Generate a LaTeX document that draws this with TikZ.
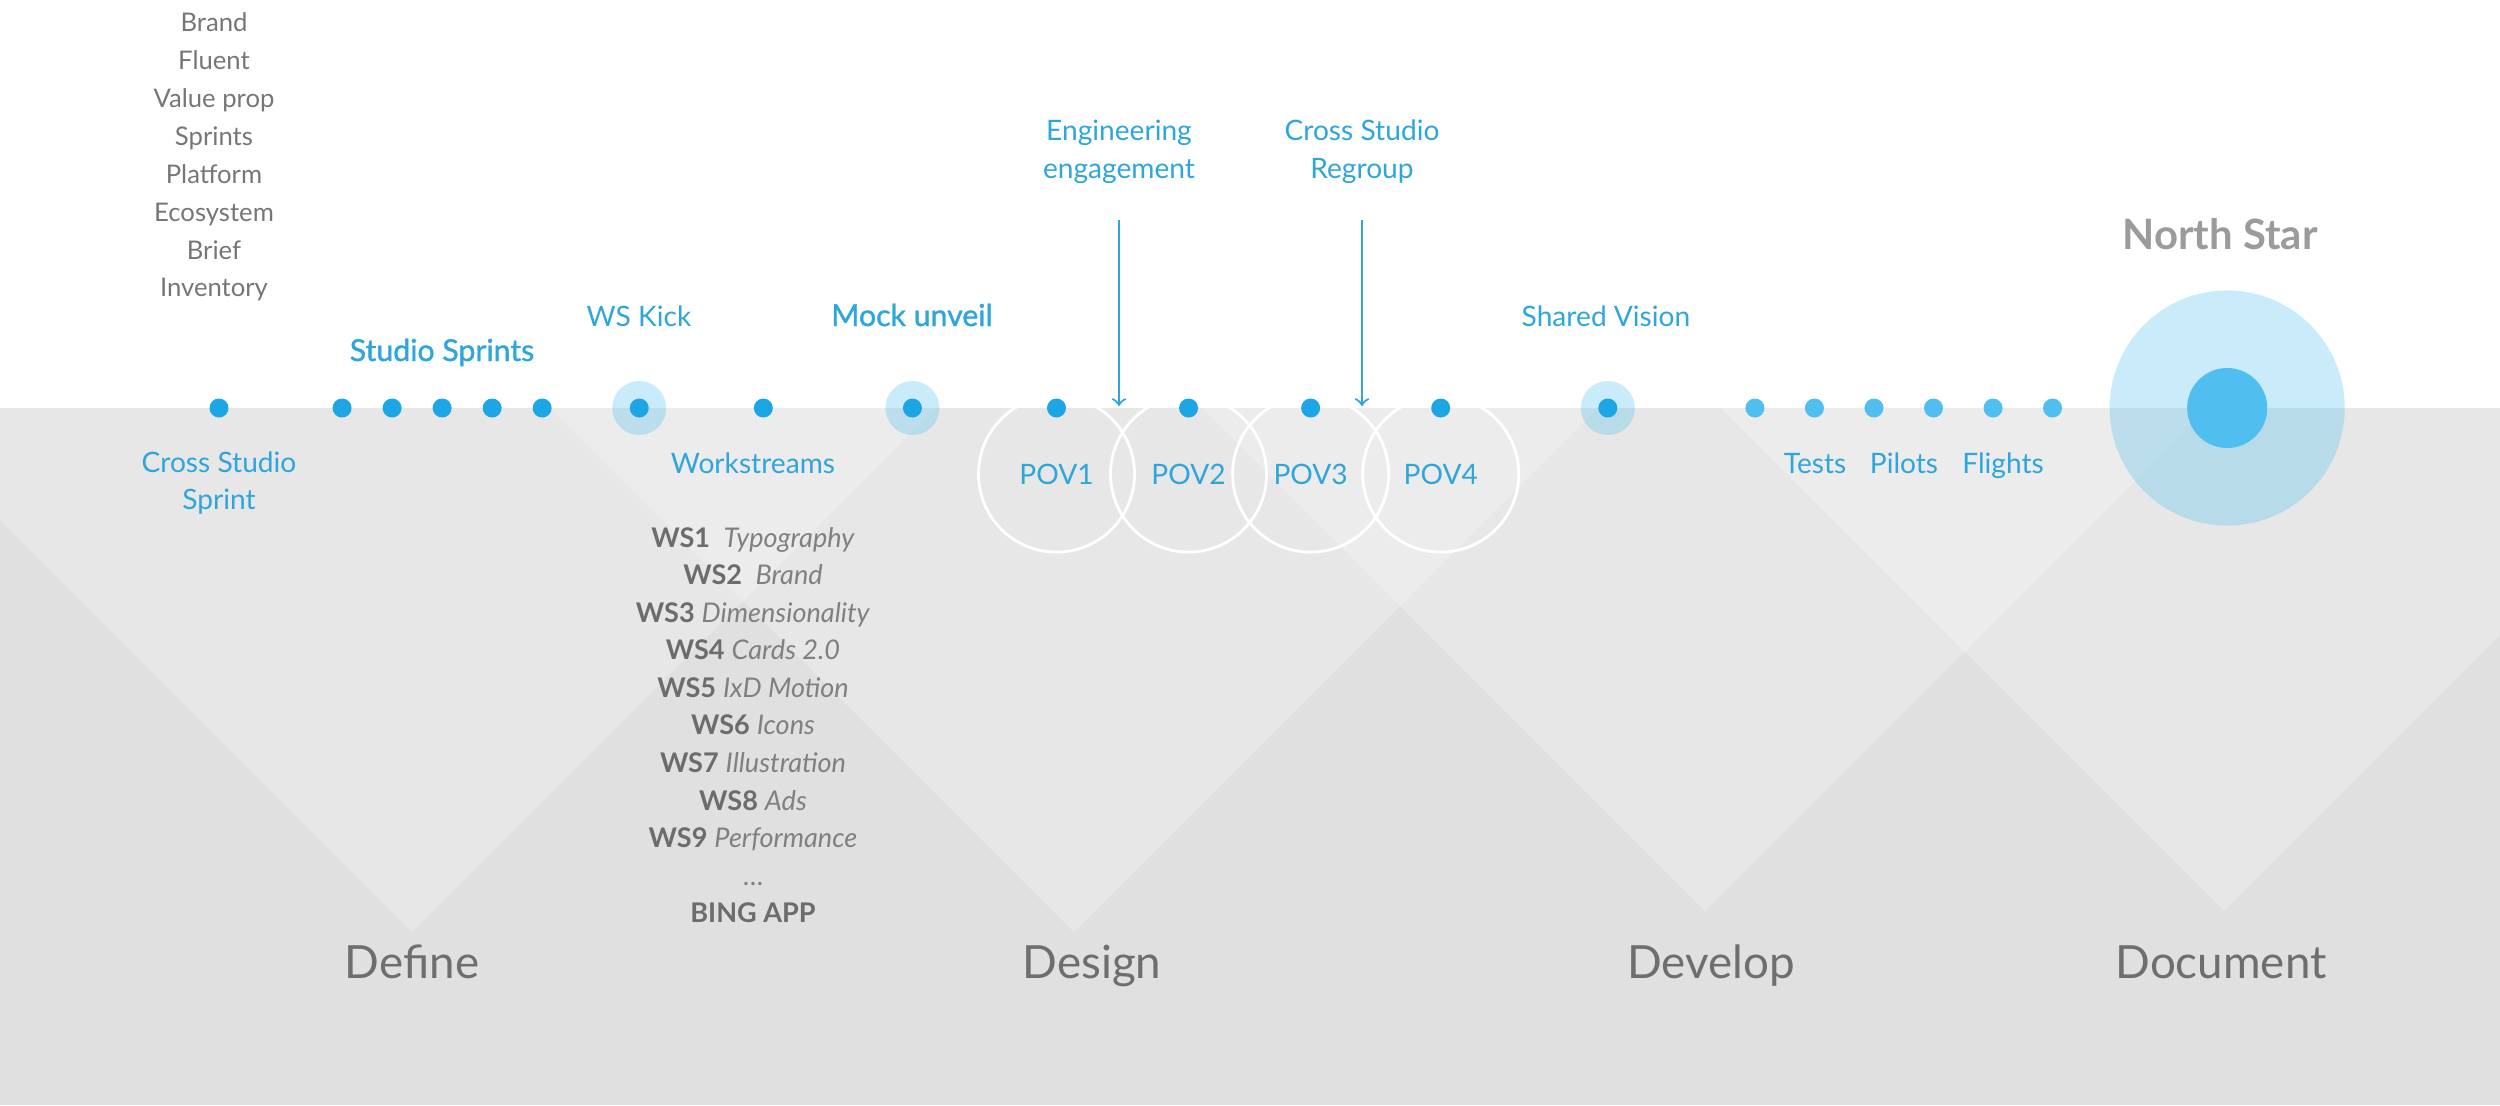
\documentclass[tikz,border=0pt]{standalone}
\usepackage{fontspec}
\setmainfont{Lato}
\newfontfamily\medfont[FakeBold=1.2]{Lato}
\usetikzlibrary{positioning}

\definecolor{tlblue}{RGB}{29,166,230}
\definecolor{tlsky}{RGB}{80,190,238}
\definecolor{tlhalo}{RGB}{78,192,238}
\definecolor{labelblue}{RGB}{46,166,220}
\definecolor{bandgray}{RGB}{224,224,224}
\definecolor{textgray}{RGB}{118,118,118}
\definecolor{wsgray}{RGB}{108,108,108}
\definecolor{wsitalic}{RGB}{128,128,128}
\definecolor{phasegray}{RGB}{110,110,110}
\definecolor{stargray}{RGB}{155,155,155}

\pgfdeclarelayer{bg}
\pgfsetlayers{bg,main}

\begin{document}
\begin{tikzpicture}[x=0.01cm,y=-0.01cm]
        \tikzstyle{every node}=[inner sep=0pt,align=center]
        \tikzstyle{tldot}=[circle,fill=tlblue,minimum size=0.19cm]
        \tikzstyle{skydot}=[circle,fill=tlsky,minimum size=0.19cm]
        \tikzstyle{halodisc}=[circle,fill=tlhalo,fill opacity=0.3,minimum size=0.54cm]
        \tikzstyle{povring}=[circle,draw=white,line width=0.8pt,minimum size=1.56cm,text=labelblue,font=\fontsize{8}{10}\selectfont]
        \tikzstyle{bluelabel}=[text=labelblue,font=\fontsize{8}{10.7}\selectfont]
        \tikzstyle{keylabel}=[text=labelblue,font=\medfont\fontsize{8.6}{10.7}\selectfont]
        \tikzstyle{graylabel}=[text=textgray,font=\fontsize{7.3}{10.78}\selectfont]
        \tikzstyle{phaselabel}=[text=phasegray,font=\fontsize{13}{15}\selectfont,anchor=base]
        \tikzstyle{flowarrow}=[->,draw=labelblue,line width=0.6pt,shorten <=0.36cm]
        \useasboundingbox (0,0) rectangle (2500,1105);

        % background band
        \begin{pgfonlayer}{bg}
        \begin{scope}
            \clip (0,0) rectangle (2500,1105);
            \fill[bandgray] (0,408) rectangle (2500,1105);
            \fill[white,fill opacity=0.23] (-112,408) -- (412,932) -- (936,408) -- cycle;
            \fill[white,fill opacity=0.23] (550,408) -- (1074,932) -- (1598,408) -- cycle;
            \fill[white,fill opacity=0.23] (1202,408) -- (1705,911) -- (2208,408) -- cycle;
            \fill[white,fill opacity=0.23] (1721,408) -- (2224,911) -- (2727,408) -- cycle;
        \end{scope}
        \end{pgfonlayer}

        % define
        \node[tldot] (csdot) at (219,408) {};
        \node[tldot, right of=csdot, node distance=1.23cm] (sprint1) {};
        \node[tldot, right of=sprint1, node distance=0.5cm] (sprint2) {};
        \node[tldot, right of=sprint2, node distance=0.5cm] (sprint3) {};
        \node[tldot, right of=sprint3, node distance=0.5cm] (sprint4) {};
        \node[tldot, right of=sprint4, node distance=0.5cm] (sprint5) {};
        \node[halodisc, right of=sprint5, node distance=0.97cm] (wskick) {};
        \node[tldot] (wskickdot) at (wskick) {};
        \node[tldot, right of=wskick, node distance=1.24cm] (wsdot) {};
        \node[halodisc, right of=wsdot, node distance=1.49cm] (mock) {};
        \node[tldot] (mockdot) at (mock) {};

        \node[graylabel] (toplist) at (214,157) {Brand\\Fluent\\Value prop\\Sprints\\Platform\\Ecosystem\\Brief\\Inventory};
        \node[keylabel,anchor=base] (studiosprints) at (442,361) {Studio Sprints};
        \node[bluelabel,anchor=base] (wskicklabel) at (639,326) {WS Kick};
        \node[keylabel,anchor=base] (mocklabel) at (912,326) {Mock unveil};
        \node[bluelabel] (cslabel) at (219,483) {Cross Studio\\Sprint};
        \node[bluelabel,anchor=base] (wslabel) at (753,473) {Workstreams};
        \node[text=wsgray,font=\fontsize{7.7}{10.68}\selectfont] (wslist) at (753,725) {%
            \textbf{WS1}\enspace{\color{wsitalic}\textit{Typography}}\\
            \textbf{WS2}\enspace{\color{wsitalic}\textit{Brand}}\\
            \textbf{WS3} {\color{wsitalic}\textit{Dimensionality}}\\
            \textbf{WS4} {\color{wsitalic}\textit{Cards 2.0}}\\
            \textbf{WS5} {\color{wsitalic}\textit{IxD Motion}}\\
            \textbf{WS6} {\color{wsitalic}\textit{Icons}}\\
            \textbf{WS7} {\color{wsitalic}\textit{Illustration}}\\
            \textbf{WS8} {\color{wsitalic}\textit{Ads}}\\
            \textbf{WS9} {\color{wsitalic}\textit{Performance}}\\
            {\color{wsitalic}\ldots}\\
            \textbf{BING APP}};

        % design
        \node[tldot, right of=mock, node distance=1.44cm] (povdot1) {};
        \node[tldot, right of=povdot1, node distance=1.32cm] (povdot2) {};
        \node[tldot, right of=povdot2, node distance=1.22cm] (povdot3) {};
        \node[tldot, right of=povdot3, node distance=1.30cm] (povdot4) {};
        \node[povring, below of=povdot1, node distance=0.66cm] (pov1) {POV1};
        \node[povring, below of=povdot2, node distance=0.66cm] (pov2) {POV2};
        \node[povring, below of=povdot3, node distance=0.66cm] (pov3) {POV3};
        \node[povring, below of=povdot4, node distance=0.66cm] (pov4) {POV4};

        \node[bluelabel] (engg) at (1119,152) {Engineering\\engagement};
        \coordinate (enggtip) at (1119,406);
        \draw[flowarrow] (engg) -- (enggtip);
        \node[bluelabel] (regroup) at (1362,152) {Cross Studio\\Regroup};
        \coordinate (regrouptip) at (1362,406);
        \draw[flowarrow] (regroup) -- (regrouptip);

        % develop
        \node[halodisc, right of=povdot4, node distance=1.67cm] (shared) {};
        \node[tldot] (shareddot) at (shared) {};
        \node[bluelabel,anchor=base] (sharedlabel) at (1606,326) {Shared Vision};
        \node[skydot, right of=shared, node distance=1.47cm] (tdot1) {};
        \node[skydot, right of=tdot1, node distance=0.595cm] (tdot2) {};
        \node[skydot, right of=tdot2, node distance=0.595cm] (tdot3) {};
        \node[skydot, right of=tdot3, node distance=0.595cm] (tdot4) {};
        \node[skydot, right of=tdot4, node distance=0.595cm] (tdot5) {};
        \node[skydot, right of=tdot5, node distance=0.595cm] (tdot6) {};
        \node[bluelabel,anchor=base] (tests) at (1815,473) {Tests};
        \node[bluelabel,anchor=base] (pilots) at (1904,473) {Pilots};
        \node[bluelabel,anchor=base] (flights) at (2003,473) {Flights};

        % north star
        \node[circle,fill=tlhalo,fill opacity=0.3,minimum size=2.35cm, right of=tdot6, node distance=1.745cm] (nsglow) {};
        \node[circle,fill=tlsky,minimum size=0.8cm] (nscore) at (nsglow) {};
        \node[text=stargray,font=\bfseries\fontsize{11.9}{14}\selectfont,anchor=base] (northstar) at (2220,249) {North Star};

        % phases
        \node[phaselabel] (define) at (412,978) {Define};
        \node[phaselabel] (design) at (1092,978) {Design};
        \node[phaselabel] (develop) at (1711,978) {Develop};
        \node[phaselabel] (document) at (2221,978) {Document};

    \end{tikzpicture}
\end{document}
